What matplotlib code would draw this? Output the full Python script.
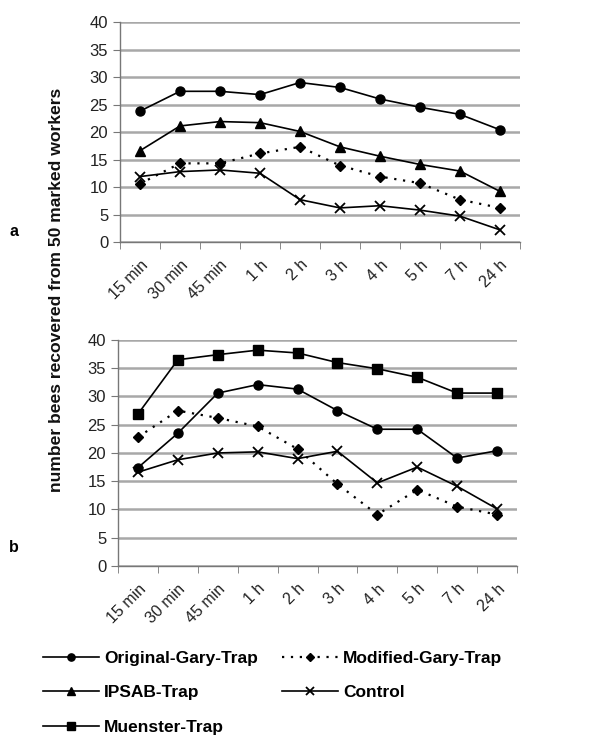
import matplotlib
matplotlib.use("Agg")
import matplotlib.pyplot as plt
import numpy as np

plt.rcParams["font.family"] = ["Liberation Sans", "DejaVu Sans"]

times = ["15 min", "30 min", "45 min", "1 h", "2 h", "3 h", "4 h", "5 h", "7 h", "24 h"]

# panel a
a_original = [23.8, 27.4, 27.4, 26.8, 29.0, 28.1, 26.0, 24.5, 23.2, 20.4]
a_modified = [10.6, 14.3, 14.3, 16.1, 17.3, 13.9, 11.9, 10.7, 7.7, 6.2]
a_ipsab = [16.6, 21.1, 21.9, 21.7, 20.1, 17.3, 15.6, 14.1, 12.9, 9.2]
a_control = [11.9, 12.8, 13.1, 12.5, 7.7, 6.2, 6.6, 5.8, 4.7, 2.2]

# panel b
b_original = [17.4, 23.5, 30.6, 32.1, 31.3, 27.5, 24.2, 24.2, 19.1, 20.4]
b_modified = [22.8, 27.5, 26.2, 24.7, 20.7, 14.5, 9.1, 13.5, 10.5, 9.1]
b_muenster = [26.9, 36.5, 37.4, 38.2, 37.7, 36.0, 34.9, 33.4, 30.6, 30.6]
b_control = [16.6, 18.8, 20.0, 20.2, 19.0, 20.3, 14.7, 17.5, 14.1, 10.1]

styles = {
    "Original-Gary-Trap": dict(marker="o", linestyle="-", markersize=6.5),
    "Modified-Gary-Trap": dict(marker="D", linestyle=(0, (1, 3)), markersize=5.5, linewidth=1.6),
    "IPSAB-Trap": dict(marker="^", linestyle="-", markersize=7),
    "Control": dict(marker="x", linestyle="-", markersize=7, markeredgewidth=1.3),
    "Muenster-Trap": dict(marker="s", linestyle="-", markersize=6.5),
}


def draw_panel(ax, series):
    x = np.arange(len(times))
    handles = {}
    for name, values in series.items():
        kw = dict(color="black", linewidth=1.2)
        kw.update(styles[name])
        (line,) = ax.plot(x, values, label=name, zorder=3, **kw)
        handles[name] = line
    ax.set_ylim(0, 40)
    ax.set_xlim(-0.5, len(times) - 0.5)
    ax.set_yticks(range(0, 41, 5))
    ax.yaxis.grid(True, color="#a8a8a8", linewidth=1.8)
    ax.set_axisbelow(True)
    ax.set_xticks(x)
    ax.set_xticklabels(times, rotation=45, ha="right", rotation_mode="anchor",
                       fontsize=11.5, color="#222222")
    ax.set_xticks(np.arange(-0.5, len(times)), minor=True)
    ax.tick_params(axis="x", which="major", length=0, pad=11)
    ax.tick_params(axis="x", which="minor", length=5, color="#777777", direction="out")
    ax.tick_params(axis="y", length=5, color="#777777", labelsize=12, labelcolor="#222222")
    for side in ("top", "right"):
        ax.spines[side].set_visible(False)
    for side in ("left", "bottom"):
        ax.spines[side].set_color("#777777")
        ax.spines[side].set_linewidth(1.0)
    return handles


fig = plt.figure(figsize=(6, 7.41), dpi=100)
ax_a = fig.add_axes([0.2, 0.6734, 0.6667, 0.2969])
ax_b = fig.add_axes([0.1967, 0.2362, 0.665, 0.305])

ha = draw_panel(ax_a, {
    "Original-Gary-Trap": a_original,
    "IPSAB-Trap": a_ipsab,
    "Modified-Gary-Trap": a_modified,
    "Control": a_control,
})
hb = draw_panel(ax_b, {
    "Muenster-Trap": b_muenster,
    "Original-Gary-Trap": b_original,
    "Modified-Gary-Trap": b_modified,
    "Control": b_control,
})

fig.text(0.015, 0.687, "a", fontsize=11.5, fontweight="bold", va="center")
fig.text(0.015, 0.2605, "b", fontsize=11.5, fontweight="bold", va="center")
fig.text(0.095, 0.609, "number bees recovered from 50 marked workers", rotation=90,
         ha="center", va="center", fontsize=12.6, fontweight="bold", color="#111111")

order = ["Original-Gary-Trap", "IPSAB-Trap", "Muenster-Trap", "Modified-Gary-Trap", "Control"]
all_handles = {**ha, **hb}
fig.legend([all_handles[n] for n in order], order, ncol=2, frameon=False,
           loc="upper left", bbox_to_anchor=(0.072, 0.122), borderaxespad=0, borderpad=0,
           handlelength=3.2, handletextpad=0.3, columnspacing=1.4, labelspacing=1.12,
           prop=dict(weight="bold", size=12.5), markerscale=0.8)

fig.savefig("out.png", dpi=100)
